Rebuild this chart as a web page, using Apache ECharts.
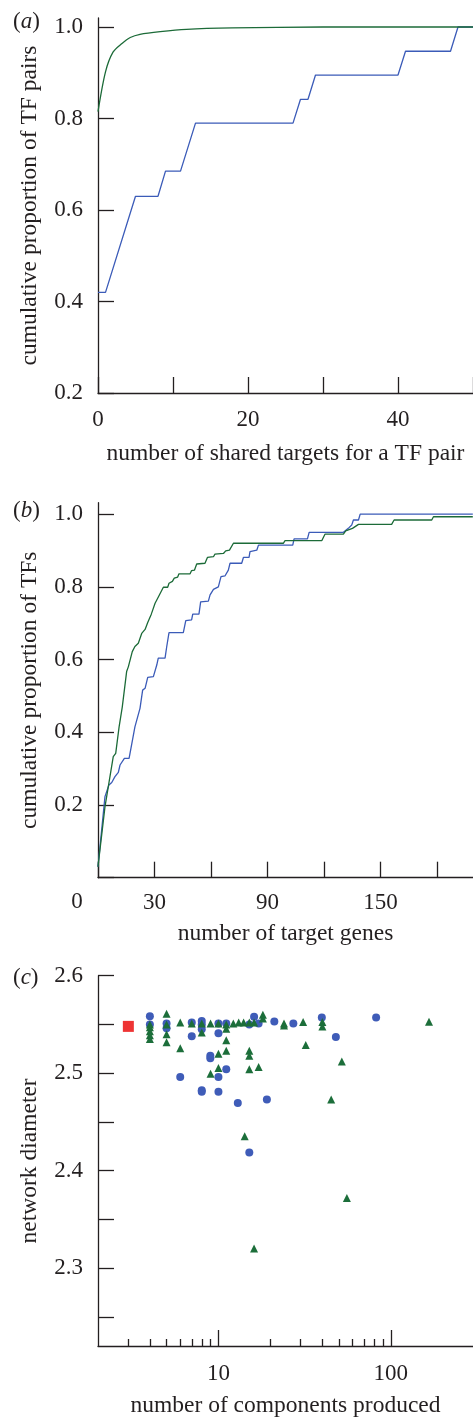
<!DOCTYPE html>
<html>
<head>
<meta charset="utf-8">
<script src="https://cdn.jsdelivr.net/npm/echarts@6/dist/echarts.min.js"></script>
<style>
  html, body { margin: 0; padding: 0; background: #fff; }
  #chart { width: 473px; height: 1419px; }
</style>
</head>
<body>
<div id="chart"></div>
<script>
// (a) cumulative proportion of TF pairs vs shared targets
const aTicksX = [0, 10, 20, 30, 40, 50]
const aLabelsX = [0, 20, 40]
const aTicksY = [0.2, 0.4, 0.6, 0.8, 1.0]
const aBlue = [[0, 0.42], [1, 0.42], [5, 0.63], [8, 0.63], [9, 0.685], [11, 0.685], [13, 0.79], [26, 0.79],
  [27, 0.842], [28, 0.842], [29, 0.895], [40, 0.895], [41, 0.947], [47, 0.947], [48, 1.0], [50, 1.0]]
const aGreen = [[0, 0.815], [1, 0.902], [2, 0.945], [3.2, 0.964], [4.3, 0.977], [5.6, 0.984], [8.3, 0.99],
  [11.8, 0.995], [17.9, 0.998], [30, 1.0], [50, 1.0]]

// (b) cumulative proportion of TFs vs target genes
const bTicksX = [0, 30, 60, 90, 120, 150, 180]
const bLabelsX = [30, 90, 150]
const bTicksY = [0, 0.2, 0.4, 0.6, 0.8, 1.0]
const bLabelsY = [0.2, 0.4, 0.6, 0.8, 1.0]
const bBlue = [[0, 0.03], [3.7, 0.223], [4.6, 0.223], [5.8, 0.255], [7.3, 0.262], [9, 0.278], [10.8, 0.29],
  [11.7, 0.31], [12.6, 0.31], [14, 0.328], [16.5, 0.328], [17, 0.342], [19.6, 0.415], [22.3, 0.466],
  [23.7, 0.516], [25, 0.521], [26.4, 0.551], [29.4, 0.553], [31.2, 0.585], [32, 0.604], [35.6, 0.604],
  [36.5, 0.636], [37.7, 0.674], [45.3, 0.674], [46.6, 0.707], [49.7, 0.709], [50.3, 0.725], [53.6, 0.725],
  [54.5, 0.759], [58.6, 0.761], [59.5, 0.778], [61.3, 0.793], [63.9, 0.8], [65.3, 0.828], [67.4, 0.83],
  [69.2, 0.846], [70.1, 0.865], [76.3, 0.865], [77.2, 0.881], [80.2, 0.881], [80.7, 0.897], [84.3, 0.901],
  [85.2, 0.915], [103.4, 0.915], [104.1, 0.932], [111.2, 0.932], [112.1, 0.95], [130.3, 0.95],
  [132.9, 0.961], [134.7, 0.97], [135.6, 0.984], [138.3, 0.984], [139.2, 1.0], [199, 1.0]]
const bGreen = [[0, 0.03], [0.2, 0.04], [3.7, 0.195], [8.1, 0.333], [9.4, 0.342], [11.2, 0.415], [12.9, 0.47],
  [15.2, 0.567], [16.1, 0.58], [17, 0.58], [18.2, 0.622], [19.6, 0.636], [21.4, 0.645], [22.3, 0.645],
  [23.2, 0.672], [25, 0.683], [26.4, 0.702], [28.3, 0.725], [30.3, 0.755], [32.1, 0.773], [34.7, 0.799],
  [37, 0.799], [37.7, 0.81], [39.5, 0.815], [40.5, 0.824], [42.3, 0.827], [43, 0.836], [48.9, 0.836],
  [49.7, 0.845], [51.2, 0.846], [52.4, 0.863], [56.8, 0.865], [58.1, 0.881], [61.3, 0.883], [62.1, 0.89],
  [66.6, 0.892], [67.8, 0.899], [69.8, 0.901], [71.9, 0.92], [98.4, 0.92], [99.3, 0.927], [118.8, 0.927],
  [120.5, 0.945], [130.3, 0.945], [131.5, 0.954], [135.1, 0.961], [136.1, 0.965], [138.3, 0.972],
  [155.9, 0.972], [157.2, 0.984], [177.2, 0.984], [178.1, 0.993], [199, 0.993]]

// (c) network diameter vs number of components
const cMinorTicks = [3, 4, 5, 6, 7, 8, 9, 20, 30, 40, 50, 60, 70, 80, 90]
const cMajorTicks = [10, 100]
const cTicksY = [2.25, 2.3, 2.35, 2.4, 2.45, 2.5, 2.55, 2.6]
const cLabelsY = [2.3, 2.4, 2.5, 2.6]
const cCircles = [[4, 2.5585], [4, 2.55], [5, 2.551], [5, 2.546], [6, 2.496], [7, 2.552], [7, 2.538],
  [8, 2.5535], [8, 2.55], [8, 2.545], [8, 2.4826], [8, 2.481], [8.97, 2.518], [8.97, 2.5154],
  [10, 2.551], [10, 2.541], [10, 2.496], [10, 2.481], [11.1, 2.551], [11.1, 2.504], [12.95, 2.4695],
  [15.1, 2.55], [15.1, 2.4185], [16.1, 2.558], [17.1, 2.551], [19.1, 2.4729], [21.1, 2.553],
  [27.2, 2.551], [39.8, 2.557], [48, 2.537], [82.2, 2.557]]
const cTriangles = [[4, 2.55], [4, 2.547], [4, 2.543], [4, 2.539], [4, 2.535], [5, 2.561], [5, 2.55],
  [5, 2.54], [5, 2.5316], [6, 2.552], [6, 2.5255], [7, 2.551], [8, 2.551], [8, 2.5417], [9, 2.551],
  [9, 2.4995], [10, 2.551], [10, 2.52], [10, 2.5052], [11.1, 2.55], [11.1, 2.5457], [11.1, 2.5339],
  [11.1, 2.523], [12.2, 2.551], [13.1, 2.552], [14, 2.552], [14.2, 2.4354], [15.1, 2.552], [15.1, 2.523],
  [15.1, 2.518], [15.1, 2.504], [16.1, 2.552], [16.1, 2.32], [17.1, 2.5063], [18.1, 2.56], [18.1, 2.556],
  [24, 2.551], [24, 2.549], [31, 2.5525], [32.1, 2.529], [40.1, 2.5525], [40.1, 2.548], [45.1, 2.473],
  [52, 2.512], [55.6, 2.372], [166.7, 2.5528]]
const cSquare = [[3, 2.548]]

const FONT = 'Liberation Serif'
const INK = '#231f20'
const BLUE = '#3b5bb8'
const GREEN = '#1c6b38'

const chart = echarts.init(document.getElementById('chart'), null, { renderer: 'canvas' })

const axisLine = { show: true, lineStyle: { color: INK, width: 1.3 } }
const tick = (values, len) => ({ show: true, inside: true, length: len, customValues: values, lineStyle: { color: INK, width: 1.3 } })
const label = (values, margin, fmt) => ({
  show: true, customValues: values, margin: margin, color: INK,
  fontFamily: FONT, fontSize: 23, formatter: fmt
})
const nameStyle = { color: INK, fontFamily: FONT, fontSize: 23.5 }
const oneDec = v => Number(v).toFixed(1)
const panelTag = (letter, y) => ({
  type: 'text', x: 13, y: y,
  style: {
    text: '{n|(}{i|' + letter + '}{n|)}', verticalAlign: 'middle',
    rich: {
      n: { fontFamily: FONT, fontSize: 23, fill: INK },
      i: { fontFamily: FONT, fontSize: 23, fontStyle: 'italic', fill: INK }
    }
  }
})

chart.setOption({
  animation: false,
  backgroundColor: '#fff',
  grid: [
    { left: 98, top: 18, width: 375, height: 375 },
    { left: 98, top: 502.7, width: 375, height: 375 },
    { left: 98, top: 975.7, width: 375, height: 375.3 }
  ],
  xAxis: [
    {
      gridIndex: 0, type: 'value', position: 'bottom', min: 0, max: 50,
      axisLine, axisTick: tick(aTicksX, 16), axisLabel: label(aLabelsX, 15),
      splitLine: { show: false },
      name: 'number of shared targets for a TF pair', nameLocation: 'middle', nameGap: 49,
      nameTextStyle: nameStyle
    },
    {
      gridIndex: 1, type: 'value', position: 'bottom', min: 0, max: 199.1,
      axisLine, axisTick: tick(bTicksX, 16), axisLabel: label(bLabelsX, 14),
      splitLine: { show: false },
      name: 'number of target genes', nameLocation: 'middle', nameGap: 44,
      nameTextStyle: nameStyle
    },
    {
      gridIndex: 2, type: 'log', logBase: 10, position: 'bottom', min: 2, max: 300,
      axisLine, axisTick: tick(cMinorTicks, 7), axisLabel: { show: false },
      splitLine: { show: false }, minorTick: { show: false }
    },
    {
      gridIndex: 2, type: 'log', logBase: 10, position: 'bottom', offset: 0, min: 2, max: 300,
      axisLine: { show: false }, axisTick: tick(cMajorTicks, 16), axisLabel: label(cMajorTicks, 16),
      splitLine: { show: false },
      name: 'number of components produced', nameLocation: 'middle', nameGap: 48,
      nameTextStyle: nameStyle
    }
  ],
  yAxis: [
    {
      gridIndex: 0, type: 'value', min: 0.2, max: 1.0197,
      axisLine, axisTick: tick(aTicksY, 16), axisLabel: label(aTicksY, 15, oneDec),
      splitLine: { show: false },
      name: 'cumulative proportion of TF pairs', nameLocation: 'middle', nameGap: 56,
      nameTextStyle: nameStyle
    },
    {
      gridIndex: 1, type: 'value', min: 0, max: 1.0316,
      axisLine, axisTick: tick(bTicksY, 16), axisLabel: label(bLabelsY, 15, oneDec),
      splitLine: { show: false },
      name: 'cumulative proportion of TFs', nameLocation: 'middle', nameGap: 56,
      nameTextStyle: nameStyle
    },
    {
      gridIndex: 2, type: 'value', min: 2.2201, max: 2.6,
      axisLine, axisTick: tick(cTicksY, 16), axisLabel: label(cLabelsY, 15, oneDec),
      splitLine: { show: false },
      name: 'network diameter', nameLocation: 'middle', nameGap: 56,
      nameTextStyle: nameStyle
    }
  ],
  series: [
    { type: 'line', xAxisIndex: 0, yAxisIndex: 0, data: aBlue, showSymbol: false, lineStyle: { color: BLUE, width: 1.3 } },
    { type: 'line', xAxisIndex: 0, yAxisIndex: 0, data: aGreen, showSymbol: false, smooth: 0.3, lineStyle: { color: GREEN, width: 1.3 } },
    { type: 'line', xAxisIndex: 1, yAxisIndex: 1, data: bBlue, showSymbol: false, lineStyle: { color: BLUE, width: 1.3 } },
    { type: 'line', xAxisIndex: 1, yAxisIndex: 1, data: bGreen, showSymbol: false, lineStyle: { color: GREEN, width: 1.3 } },
    { type: 'scatter', xAxisIndex: 2, yAxisIndex: 2, data: cCircles, symbol: 'circle', symbolSize: 8, itemStyle: { color: '#3f5cb8', opacity: 1 } },
    { type: 'scatter', xAxisIndex: 2, yAxisIndex: 2, data: cTriangles, symbol: 'triangle', symbolSize: 8, itemStyle: { color: '#1c6e3a', opacity: 1 } },
    { type: 'scatter', xAxisIndex: 2, yAxisIndex: 2, data: cSquare, symbol: 'rect', symbolSize: 11, itemStyle: { color: '#ee3434', opacity: 1 } }
  ],
  graphic: [
    panelTag('a', 22),
    panelTag('b', 511),
    panelTag('c', 978),
    { type: 'text', x: 77, y: 902, style: { text: '0', align: 'center', verticalAlign: 'middle', font: '23px "Liberation Serif"', fill: INK } }
  ]
})

window.addEventListener('resize', () => {
  chart.resize()
}, false)
</script>
</body>
</html>
